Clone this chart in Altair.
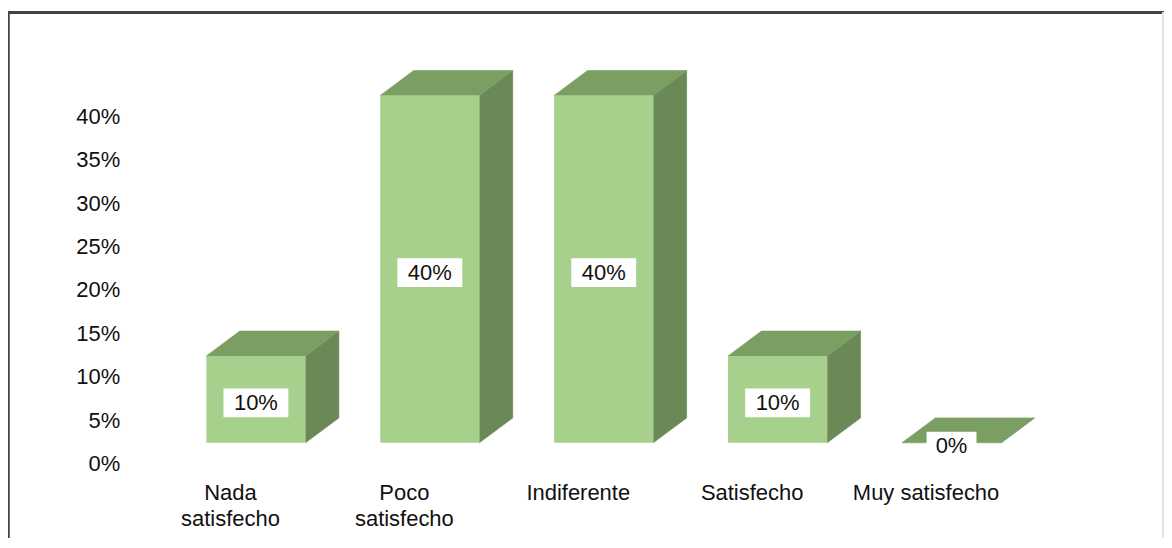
import altair as alt
import pandas as pd

# ---------------- data ----------------
categories = ["Nada satisfecho", "Poco satisfecho", "Indiferente", "Satisfecho", "Muy satisfecho"]
category_lines = ["Nada\nsatisfecho", "Poco\nsatisfecho", "Indiferente", "Satisfecho", "Muy satisfecho"]
values = [10, 40, 40, 10, 0]
value_labels = ["10%", "40%", "40%", "10%", "0%"]
y_ticks = [0, 5, 10, 15, 20, 25, 30, 35, 40]

# ---------------- style ----------------
W, H = 1158, 530
PX_X = 174.2          # pixels per category step
PX_Y = 8.7            # pixels per percentage point
X_DOMAIN = [-248.35 / PX_X, -248.35 / PX_X + W / PX_X]
Y_DOMAIN = [456 / PX_Y - H / PX_Y, 456 / PX_Y]
HALF_W = 0.285        # half width of the front face (category units)
DX = 0.192            # depth to the right (category units)
DY = 2.87             # depth upwards (percentage units)
BASE = 2.4            # floor offset of the front face
FRONT = "#a8d08d"
TOP = "#7b9e63"
SIDE = "#6b8957"
FONT = "Liberation Sans"
FS = 22

front_rows, side_rows, top_rows, box_rows, cat_rows = [], [], [], [], []
for i, (c, lines, v, lab) in enumerate(zip(categories, category_lines, values, value_labels)):
    xl, xr = i - HALF_W, i + HALF_W
    t = BASE + v
    front_rows.append(dict(cat=c, x=xl, x2=xr, y=BASE, y2=t))
    side_rows += [dict(cat=c, x=xr, y=BASE, y2=t),
                  dict(cat=c, x=xr + DX, y=BASE + DY, y2=t + DY)]
    top_rows += [dict(cat=c, x=xl, y=t, y2=t),
                 dict(cat=c, x=xl + DX, y=t, y2=t + DY),
                 dict(cat=c, x=xr, y=t, y2=t + DY),
                 dict(cat=c, x=xr + DX, y=t + DY, y2=t + DY)]
    hw = (20 + 15 * len(lab)) / 2 / PX_X
    hh = 14.5 / PX_Y
    cy = BASE + v / 2 - 0.4
    box_rows.append(dict(cat=c, label=lab, xc=float(i), x=i - hw, x2=i + hw,
                         yc=cy, y=cy - hh, y2=cy + hh))
    cat_rows.append(dict(cat=c, text=lines, x=i - 25.5 / PX_X, y=-19.6 / PX_Y))

front_df = pd.DataFrame(front_rows)
side_df = pd.DataFrame(side_rows)
top_df = pd.DataFrame(top_rows)
box_df = pd.DataFrame(box_rows)
cat_df = pd.DataFrame(cat_rows)

xs = alt.Scale(domain=X_DOMAIN, nice=False, zero=False)
ys = alt.Scale(domain=Y_DOMAIN, nice=False, zero=False)

y_axis = alt.Axis(values=y_ticks, labelExpr="datum.value + '%'", domain=False, ticks=False,
                  tickSize=0, grid=False, labelPadding=0, offset=-112, labelFontSize=FS,
                  labelFont=FONT, labelColor="#111111", title=None, labelFontWeight="normal")


def X(field):
    return alt.X(field, scale=xs, axis=None)


def Y(field):
    return alt.Y(field, scale=ys, axis=y_axis)


side = alt.Chart(side_df).mark_area(orient="vertical", interpolate="linear", color=SIDE,
                                    stroke=SIDE, strokeWidth=0.6).encode(
    x=X("x:Q"), y=Y("y:Q"), y2="y2:Q", detail="cat:N",
)

top = alt.Chart(top_df).mark_area(orient="vertical", interpolate="linear", color=TOP,
                                  stroke=TOP, strokeWidth=0.6).encode(
    x=X("x:Q"), y=Y("y:Q"), y2="y2:Q", detail="cat:N",
)

front = alt.Chart(front_df).mark_rect(color=FRONT).encode(
    x=X("x:Q"), x2="x2:Q", y=Y("y:Q"), y2="y2:Q",
)

boxes = alt.Chart(box_df).mark_rect(color="white").encode(
    x=X("x:Q"), x2="x2:Q", y=Y("y:Q"), y2="y2:Q",
)

box_text = alt.Chart(box_df).mark_text(font=FONT, fontSize=FS, color="#111111",
                                       align="center", baseline="middle").encode(
    x=X("xc:Q"), y=Y("yc:Q"), text="label:N",
)

cat_text = alt.Chart(cat_df).mark_text(font=FONT, fontSize=FS, color="#111111",
                                       align="center", baseline="top", lineBreak="\n",
                                       lineHeight=26).encode(
    x=X("x:Q"), y=Y("y:Q"), text="text:N",
)

frame_top = alt.Chart(front_df).mark_rule(color="#444444", strokeWidth=2.5).encode(
    x=alt.value(0), x2=alt.value(W), y=alt.value(4))
frame_left = alt.Chart(front_df).mark_rule(color="#444444", strokeWidth=2.5).encode(
    x=alt.value(0), y=alt.value(4), y2=alt.value(H + 20))
frame_right = alt.Chart(front_df).mark_rule(color="#e4e4e4", strokeWidth=1.5).encode(
    x=alt.value(1157), y=alt.value(4), y2=alt.value(H + 20))

chart = alt.layer(side, top, front, boxes, box_text, cat_text,
                  frame_top, frame_left, frame_right).properties(
    width=W, height=H, autosize=alt.AutoSizeParams(type="none"), padding=0,
    background="white",
).configure_view(stroke=None)

chart.save("out.html", embed_options={"renderer": "svg", "actions": False})
